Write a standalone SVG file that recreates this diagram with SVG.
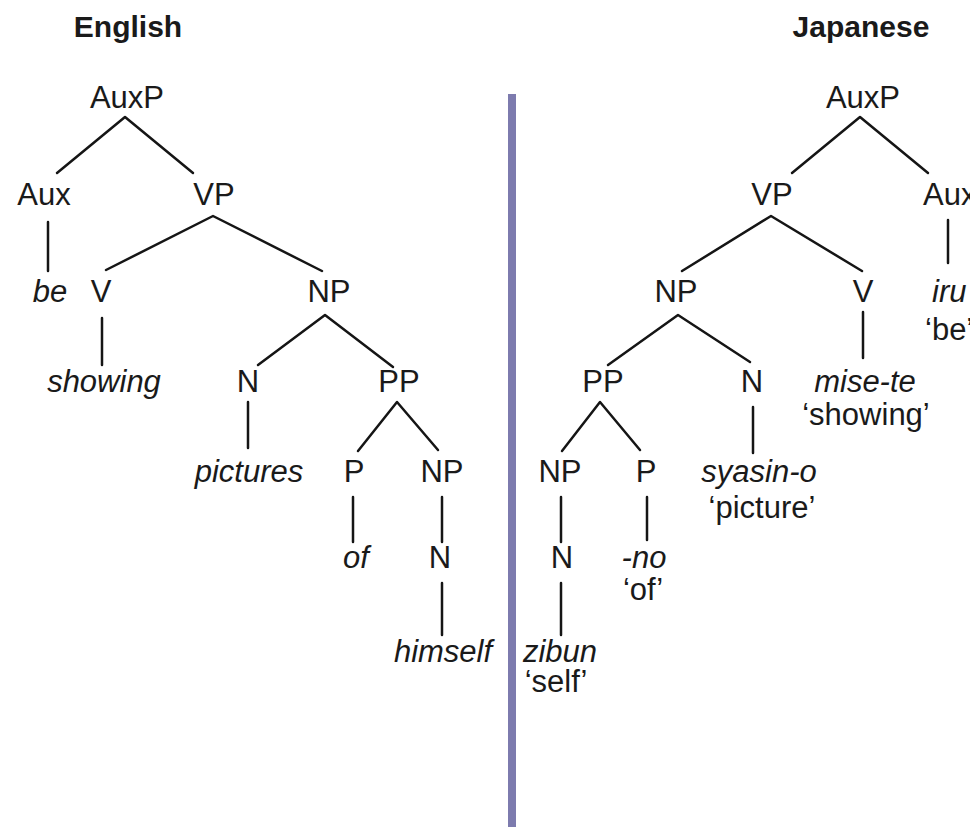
<svg xmlns="http://www.w3.org/2000/svg" width="970" height="827" viewBox="0 0 970 827">
  <style>
    text { font-family: "Liberation Sans", Arial, sans-serif; font-size: 31px; fill: #1a1a1a; text-anchor: middle; }
    .title { font-weight: bold; font-size: 30px; }
    .word { font-style: italic; }
    .start { text-anchor: start; }
    .edge { stroke: #151515; stroke-width: 2.5; fill: none; stroke-linecap: round; stroke-linejoin: round; }
  </style>
  <rect width="970" height="827" fill="#ffffff"/>

  <!-- divider between the two trees -->
  <rect id="divider" x="508" y="94" width="8" height="733" fill="#7d7bae"/>

  <!-- English tree -->
  <g id="en-title"><text class="title" x="128" y="37">English</text></g>
  <g id="en-auxp"><text x="127" y="108">AuxP</text></g>
  <g id="en-aux"><text x="44" y="205">Aux</text></g>
  <g id="en-vp"><text x="214" y="205">VP</text></g>
  <g id="en-be"><text class="word" x="50" y="302">be</text></g>
  <g id="en-v"><text x="101" y="302">V</text></g>
  <g id="en-np1"><text x="329" y="302">NP</text></g>
  <g id="en-showing"><text class="word" x="104" y="392">showing</text></g>
  <g id="en-n1"><text x="248" y="392">N</text></g>
  <g id="en-pp"><text x="399" y="392">PP</text></g>
  <g id="en-pictures"><text class="word" x="249" y="482">pictures</text></g>
  <g id="en-p"><text x="354" y="482">P</text></g>
  <g id="en-np2"><text x="442" y="482">NP</text></g>
  <g id="en-of"><text class="word" x="356" y="568">of</text></g>
  <g id="en-n2"><text x="440" y="568">N</text></g>
  <g id="en-himself"><text class="word" x="443" y="662">himself</text></g>

  <!-- Japanese tree -->
  <g id="ja-title"><text class="title" x="861" y="37">Japanese</text></g>
  <g id="ja-auxp"><text x="863" y="108">AuxP</text></g>
  <g id="ja-vp"><text x="772" y="205">VP</text></g>
  <g id="ja-aux"><text class="start" x="923" y="205">Aux</text></g>
  <g id="ja-np1"><text x="676" y="302">NP</text></g>
  <g id="ja-v"><text x="863" y="302">V</text></g>
  <g id="ja-iru"><text class="word start" x="932" y="302">iru</text><text class="start" x="925" y="340">‘be’</text></g>
  <g id="ja-pp"><text x="603" y="392">PP</text></g>
  <g id="ja-n1"><text x="752" y="392">N</text></g>
  <g id="ja-misete"><text class="word" x="865" y="392">mise-te</text><text x="866" y="425">‘showing’</text></g>
  <g id="ja-np2"><text x="560" y="482">NP</text></g>
  <g id="ja-p"><text x="646" y="482">P</text></g>
  <g id="ja-syasin"><text class="word" x="759" y="482">syasin-o</text><text x="762" y="518">‘picture’</text></g>
  <g id="ja-n2"><text x="562" y="568">N</text></g>
  <g id="ja-no"><text class="word" x="644" y="568">-no</text><text x="643" y="600">‘of’</text></g>
  <g id="ja-zibun"><text class="word" x="560" y="662">zibun</text><text x="556" y="692">‘self’</text></g>

  <!-- branches -->
  <g id="connectors" class="edge">
    <!-- English -->
    <polyline class="edge" points="57,173 125,117 193,173"/>
    <line class="edge" x1="48" y1="222" x2="48" y2="271"/>
    <polyline class="edge" points="106,270 213,216 322,271"/>
    <line class="edge" x1="102" y1="318" x2="102" y2="365"/>
    <polyline class="edge" points="258,365 325,315 393,367"/>
    <line class="edge" x1="248" y1="402" x2="248" y2="448"/>
    <polyline class="edge" points="358,451 397,402 438,450"/>
    <line class="edge" x1="353" y1="497" x2="353" y2="542"/>
    <line class="edge" x1="442" y1="497" x2="442" y2="542"/>
    <line class="edge" x1="442" y1="583" x2="442" y2="635"/>
    <!-- Japanese -->
    <polyline class="edge" points="792,173 860,117 928,173"/>
    <line class="edge" x1="948" y1="220" x2="948" y2="263"/>
    <polyline class="edge" points="682,271 771,216 862,271"/>
    <line class="edge" x1="863" y1="312" x2="863" y2="358"/>
    <polyline class="edge" points="608,365 678,315 750,362"/>
    <line class="edge" x1="753" y1="407" x2="753" y2="453"/>
    <polyline class="edge" points="562,451 600,402 640,450"/>
    <line class="edge" x1="561" y1="497" x2="561" y2="542"/>
    <line class="edge" x1="647" y1="497" x2="647" y2="540"/>
    <line class="edge" x1="561" y1="583" x2="561" y2="635"/>
  </g>
</svg>
